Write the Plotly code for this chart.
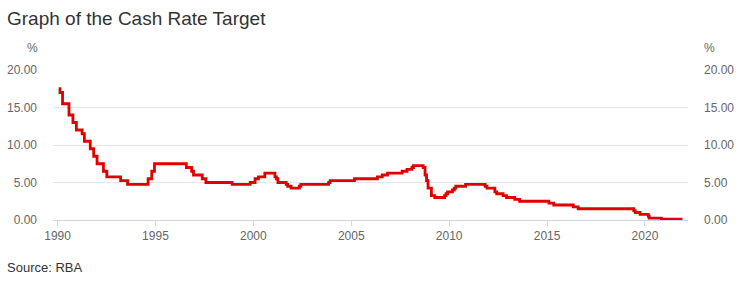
import plotly.graph_objects as go

# Cash rate target change dates and levels (%)
change_dates = [
    "1990-01-23", "1990-02-15", "1990-04-04", "1990-08-02", "1990-10-15", "1990-12-18",
    "1991-04-04", "1991-05-16", "1991-09-03", "1991-11-06", "1992-01-08", "1992-05-06",
    "1992-07-08", "1993-03-23", "1993-07-30", "1994-08-17", "1994-10-24", "1994-12-14",
    "1996-07-31", "1996-11-06", "1996-12-11", "1997-05-23", "1997-07-30", "1998-12-02",
    "1999-11-03", "2000-02-02", "2000-04-05", "2000-08-02", "2001-02-07", "2001-03-07",
    "2001-04-04", "2001-09-05", "2001-10-03", "2001-12-05", "2002-05-08", "2002-06-05",
    "2003-11-05", "2003-12-03", "2005-03-02", "2006-05-03", "2006-08-02", "2006-11-08",
    "2007-08-08", "2007-11-07", "2008-02-06", "2008-03-05", "2008-09-03", "2008-10-08",
    "2008-11-05", "2008-12-03", "2009-02-04", "2009-04-08", "2009-10-07", "2009-11-04",
    "2009-12-02", "2010-03-03", "2010-04-07", "2010-05-05", "2010-11-03", "2011-11-02",
    "2011-12-07", "2012-05-02", "2012-06-06", "2012-10-03", "2012-12-05", "2013-05-08",
    "2013-08-07", "2015-02-04", "2015-05-06", "2016-05-04", "2016-08-03", "2019-06-05",
    "2019-07-03", "2019-10-02", "2020-03-04", "2020-03-20", "2020-11-04", "2021-12-01",
]
cash_rate = [
    17.50, 17.00, 15.50, 14.00, 13.00, 12.00,
    11.50, 10.50, 9.50, 8.50, 7.50, 6.50,
    5.75, 5.25, 4.75, 5.50, 6.50, 7.50,
    7.00, 6.50, 6.00, 5.50, 5.00, 4.75,
    5.00, 5.50, 5.75, 6.25, 5.75, 5.50,
    5.00, 4.75, 4.50, 4.25, 4.50, 4.75,
    5.00, 5.25, 5.50, 5.75, 6.00, 6.25,
    6.50, 6.75, 7.00, 7.25, 7.00, 6.00,
    5.25, 4.25, 3.25, 3.00, 3.25, 3.50,
    3.75, 4.00, 4.25, 4.50, 4.75, 4.50,
    4.25, 3.75, 3.50, 3.25, 3.00, 2.75,
    2.50, 2.25, 2.00, 1.75, 1.50, 1.25,
    1.00, 0.75, 0.50, 0.25, 0.10, 0.10,
]

x_tick_vals = ["1990-01-01", "1995-01-01", "2000-01-01", "2005-01-01",
               "2010-01-01", "2015-01-01", "2020-01-01"]
x_tick_text = ["1990", "1995", "2000", "2005", "2010", "2015", "2020"]
y_tick_vals = [0, 5, 10, 15, 20]
y_tick_text = ["0.00", "5.00", "10.00", "15.00", "20.00"]

FONT = "Liberation Sans, Arial, sans-serif"
RED = "#e00000"

fig = go.Figure()
fig.add_trace(go.Scatter(
    x=change_dates, y=cash_rate, mode="lines", line=dict(color=RED, width=2.8, shape="hv"),
    name="Cash Rate Target", showlegend=False, yaxis="y",
))
fig.add_trace(go.Scatter(
    x=change_dates, y=cash_rate, mode="lines", line=dict(color="rgba(0,0,0,0)", width=0, shape="hv"),
    showlegend=False, hoverinfo="skip", yaxis="y2",
))

yax = dict(
    range=[0, 20], tickvals=y_tick_vals, ticktext=y_tick_text,
    showgrid=True, gridcolor="#e6e6e6", gridwidth=1, zeroline=False,
    showline=False, ticks="", tickfont=dict(family=FONT, size=12, color="#666666"),
    ticklabelstandoff=15, automargin=False,
)

fig.update_layout(
    width=751, height=282,
    margin=dict(l=53, r=63, t=70, b=62),
    paper_bgcolor="white", plot_bgcolor="white",
    font=dict(family=FONT, color="#666666"),
    title=dict(text="Graph of the Cash Rate Target", x=7 / 751, xanchor="left",
               y=1 - 18 / 282, yanchor="middle",
               font=dict(family=FONT, size=19, color="#333333")),
    xaxis=dict(
        type="date", range=["1989-10-08", "2022-03-14"],
        tickvals=x_tick_vals, ticktext=x_tick_text,
        showgrid=False, zeroline=False, showline=True, linecolor="#ccd6eb", linewidth=1,
        ticks="outside", ticklen=5, tickcolor="#ccd6eb", tickwidth=1,
        tickfont=dict(family=FONT, size=12, color="#666666"), automargin=False,
    ),
    yaxis=dict(**yax, side="left"),
    yaxis2=dict(**yax, side="right", overlaying="y"),
    annotations=[
        dict(text="%", xref="paper", yref="paper", x=-21 / 635, y=(220 - 48) / 150,
             xanchor="center", yanchor="middle", showarrow=False,
             font=dict(family=FONT, size=12, color="#666666")),
        dict(text="%", xref="paper", yref="paper", x=1 + 21 / 635, y=(220 - 48) / 150,
             xanchor="center", yanchor="middle", showarrow=False,
             font=dict(family=FONT, size=12, color="#666666")),
        dict(text="Source: RBA", xref="paper", yref="paper", x=-48 / 635, y=-(267 - 220) / 150,
             xanchor="left", yanchor="middle", showarrow=False,
             font=dict(family=FONT, size=13, color="#333333")),
    ],
)

fig.write_html("out.html")
